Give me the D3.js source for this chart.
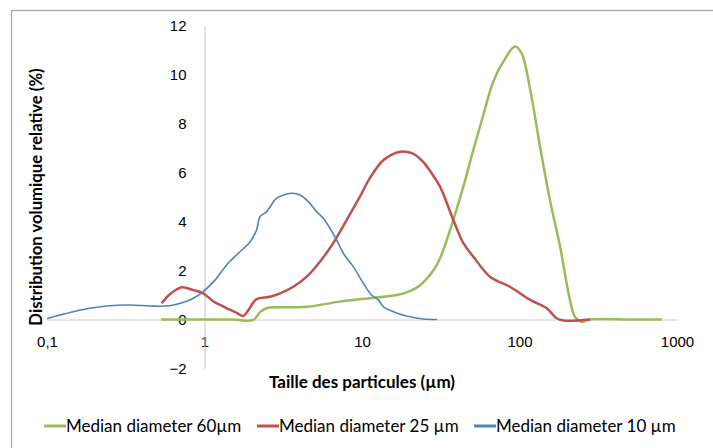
<!DOCTYPE html>
<html>
<head>
<meta charset="utf-8">
<script src="https://cdn.jsdelivr.net/npm/d3@7"></script>
<style>
  body { margin: 0; background: #fff; }
  svg { display: block; font-family: Lato, "Open Sans", sans-serif; }
</style>
</head>
<body>
<div class="chart"></div>
<script>
// particle size distributions, x in µm (log axis), y in % volume
const xTicks = [0.1, 1, 10, 100, 1000];
const xTickLabels = ["0,1", "1", "10", "100", "1000"];
const yTicks = [-2, 0, 2, 4, 6, 8, 10, 12];

const seriesNames = ["Median diameter 60µm", "Median diameter 25 µm", "Median diameter 10 µm"];
const seriesColors = ["#9bbb59", "#c0504d", "#4f81bd"];

const size60 = [0.53, 1, 1.5, 2.04, 2.25, 2.48, 3.02, 4.46, 7.25, 11.2, 16.6, 20, 23.4, 28.5, 31.3, 38, 44, 50.9, 58.9, 68.2, 78.9, 93.6, 103, 117, 135, 156, 181, 209, 225, 248, 280, 500, 800];
const vol60 = [0, 0, 0, -0.02, 0.3, 0.46, 0.5, 0.52, 0.73, 0.87, 1.0, 1.15, 1.4, 2.02, 2.5, 4.07, 5.43, 6.93, 8.36, 9.73, 10.54, 11.16, 10.89, 9.39, 7.07, 4.89, 2.98, 0.8, 0.11, -0.09, 0, 0, 0];

const size25 = [0.535, 0.6, 0.716, 0.85, 0.98, 1.15, 1.32, 1.45, 1.6, 1.76, 1.9, 2.14, 2.6, 3.02, 3.66, 4.46, 5.41, 6.56, 8.0, 9.7, 11.2, 13.7, 17.5, 20.7, 24, 27.7, 31.3, 38, 44, 50.9, 65, 87, 117, 149, 172, 190, 280];
const vol25 = [0.66, 1.02, 1.32, 1.2, 1.07, 0.72, 0.53, 0.4, 0.27, 0.14, 0.39, 0.83, 0.93, 1.07, 1.34, 1.75, 2.36, 3.12, 4.07, 5.02, 5.77, 6.52, 6.86, 6.8, 6.5, 5.98, 5.43, 4.07, 3.12, 2.57, 1.75, 1.34, 0.8, 0.46, 0.05, -0.04, 0];

const size10 = [0.1, 0.118, 0.147, 0.187, 0.239, 0.336, 0.45, 0.6, 0.73, 0.85, 0.98, 1.17, 1.38, 1.64, 1.95, 2.14, 2.25, 2.48, 2.87, 3.33, 3.6, 4.04, 4.56, 5.15, 5.68, 6.26, 6.9, 7.61, 8.8, 10.2, 11.5, 12.7, 13.7, 15.8, 19.2, 24.5, 30];
const vol10 = [0.03, 0.16, 0.32, 0.46, 0.55, 0.59, 0.55, 0.56, 0.69, 0.87, 1.14, 1.62, 2.23, 2.71, 3.18, 3.66, 4.2, 4.41, 4.96, 5.13, 5.16, 5.09, 4.82, 4.41, 4.14, 3.73, 3.25, 2.71, 2.16, 1.48, 1.0, 0.8, 0.52, 0.32, 0.14, 0.02, 0];

const seriesSizes = [size60, size25, size10];
const seriesVols = [vol60, vol25, vol10];
const seriesWidths = [2.5, 2.5, 1.6];

const width = 713, height = 448;

const svg = d3.select(".chart").append("svg")
    .attr("width", width)
    .attr("height", height);

// chart area border (runs off the right and bottom of the picture)
svg.append("rect")
    .attr("x", 11.5).attr("y", 10.5)
    .attr("width", 740).attr("height", 480)
    .attr("fill", "none")
    .attr("stroke", "#a6a6a6")
    .attr("stroke-width", 1.2);

const x = d3.scaleLog().domain([0.1, 1000]).range([47, 677]);
const y = d3.scaleLinear().domain([-2, 12]).range([368.4, 26]);

// x axis sits on y = 0
const xAxis = svg.append("g")
    .attr("transform", `translate(0,${y(0)})`)
    .call(d3.axisBottom(x)
        .tickValues(xTicks)
        .tickFormat((d, i) => xTickLabels[i])
        .tickSize(0)
        .tickPadding(17));
xAxis.select(".domain").attr("stroke", "#d0d0d0").attr("stroke-width", 1.2);
xAxis.selectAll("text").attr("font-size", 15).attr("fill", "#000");

// y axis crosses at x = 1
const yAxis = svg.append("g")
    .attr("transform", `translate(${x(1)},0)`)
    .call(d3.axisLeft(y)
        .tickValues(yTicks)
        .tickFormat(d3.format("d"))
        .tickSize(0)
        .tickPadding(18));
yAxis.select(".domain").attr("stroke", "#c4c4c4").attr("stroke-width", 1);
yAxis.selectAll("text").attr("font-size", 15).attr("fill", "#000");

// titles
svg.append("text")
    .attr("x", 362).attr("y", 388)
    .attr("text-anchor", "middle")
    .attr("font-size", 17)
    .attr("font-weight", "bold")
    .text("Taille des particules (µm)");

svg.append("text")
    .attr("transform", "translate(42,197) rotate(-90)")
    .attr("text-anchor", "middle")
    .attr("font-size", 16.7)
    .attr("font-weight", "bold")
    .text("Distribution volumique relative (%)");

// curves
const line = d3.line()
    .x(d => x(d[0]))
    .y(d => y(d[1]))
    .curve(d3.curveCatmullRom.alpha(0.5));

seriesNames.forEach((name, i) => {
    const pts = seriesSizes[i].map((s, j) => [s, seriesVols[i][j]]);
    svg.append("path")
        .datum(pts)
        .attr("fill", "none")
        .attr("stroke", seriesColors[i])
        .attr("stroke-width", seriesWidths[i])
        .attr("stroke-linejoin", "round")
        .attr("d", line);
});

// legend
const legend = svg.append("g").attr("transform", "translate(0,426)");
const legendStarts = [44, 257, 474];
seriesNames.forEach((name, i) => {
    const g = legend.append("g").attr("transform", `translate(${legendStarts[i]},0)`);
    g.append("line")
        .attr("x1", 0).attr("x2", 22)
        .attr("stroke", seriesColors[i])
        .attr("stroke-width", 3);
    g.append("text")
        .attr("x", 22).attr("dy", "0.35em")
        .attr("font-size", 17)
        .text(name);
});
</script>
</body>
</html>
